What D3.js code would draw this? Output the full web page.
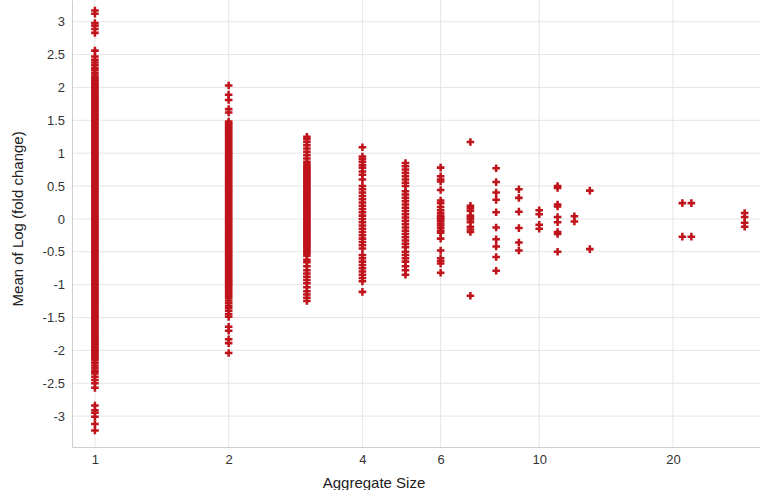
<!DOCTYPE html>
<html>
<head>
<meta charset="utf-8">
<script src="https://cdn.jsdelivr.net/npm/d3@7"></script>
<style>
  body { margin: 0; background: #fff; }
  text { font-family: "Liberation Sans", Arial, sans-serif; }
</style>
</head>
<body>
<div id="chart"></div>
<script>
// data: one array of values per aggregate size
const xTicks = [1, 2, 4, 6, 10, 20];
const yTicks = [-3, -2.5, -2, -1.5, -1, -0.5, 0, 0.5, 1, 1.5, 2, 2.5, 3];

const size1 = [3.17, 3.12, 2.98, 2.94, 2.89, 2.83, 2.56, 2.47, 2.42, 2.38, 2.34, 2.3, 2.26, 2.22, 2.18,
  2.15, 2.125, 2.1, 2.075, 2.05, 2.025, 2.0, 1.975, 1.95, 1.925, 1.9, 1.875, 1.85, 1.825, 1.8, 1.775, 1.75,
  1.725, 1.7, 1.675, 1.65, 1.625, 1.6, 1.575, 1.55, 1.525, 1.5, 1.475, 1.45, 1.425, 1.4, 1.375, 1.35, 1.325,
  1.3, 1.275, 1.25, 1.225, 1.2, 1.175, 1.15, 1.125, 1.1, 1.075, 1.05, 1.025, 1.0, 0.975, 0.95, 0.925, 0.9,
  0.875, 0.85, 0.825, 0.8, 0.775, 0.75, 0.725, 0.7, 0.675, 0.65, 0.625, 0.6, 0.575, 0.55, 0.525, 0.5, 0.475,
  0.45, 0.425, 0.4, 0.375, 0.35, 0.325, 0.3, 0.275, 0.25, 0.225, 0.2, 0.175, 0.15, 0.125, 0.1, 0.075, 0.05,
  0.025, 0, -0.025, -0.05, -0.075, -0.1, -0.125, -0.15, -0.175, -0.2, -0.225, -0.25, -0.275, -0.3, -0.325,
  -0.35, -0.375, -0.4, -0.425, -0.45, -0.475, -0.5, -0.525, -0.55, -0.575, -0.6, -0.625, -0.65, -0.675, -0.7,
  -0.725, -0.75, -0.775, -0.8, -0.825, -0.85, -0.875, -0.9, -0.925, -0.95, -0.975, -1.0, -1.025, -1.05,
  -1.075, -1.1, -1.125, -1.15, -1.175, -1.2, -1.225, -1.25, -1.275, -1.3, -1.325, -1.35, -1.375, -1.4, -1.425,
  -1.45, -1.475, -1.5, -1.525, -1.55, -1.575, -1.6, -1.625, -1.65, -1.675, -1.7, -1.725, -1.75, -1.775, -1.8,
  -1.825, -1.85, -1.875, -1.9, -1.925, -1.95, -1.975, -2.0, -2.025, -2.05, -2.075, -2.1, -2.125, -2.15,
  -2.19, -2.23, -2.27, -2.31, -2.35, -2.4, -2.45, -2.5, -2.57, -2.84, -2.91, -2.95, -3.01, -3.12, -3.22];
const size2 = [2.03, 1.89, 1.81, 1.67, 1.62, 1.48, 1.455, 1.43, 1.405, 1.38, 1.355, 1.33, 1.305, 1.28, 1.255,
  1.23, 1.205, 1.18, 1.155, 1.13, 1.105, 1.08, 1.055, 1.03, 1.005, 0.98, 0.955, 0.93, 0.905, 0.88, 0.855, 0.83,
  0.805, 0.78, 0.755, 0.73, 0.705, 0.68, 0.655, 0.63, 0.605, 0.58, 0.555, 0.53, 0.505, 0.48, 0.455, 0.43,
  0.405, 0.38, 0.355, 0.33, 0.305, 0.28, 0.255, 0.23, 0.205, 0.18, 0.155, 0.13, 0.105, 0.08, 0.055, 0.03,
  0.005, -0.02, -0.045, -0.07, -0.095, -0.12, -0.145, -0.17, -0.195, -0.22, -0.245, -0.27, -0.295, -0.32,
  -0.345, -0.37, -0.395, -0.42, -0.445, -0.47, -0.495, -0.52, -0.545, -0.57, -0.595, -0.62, -0.645, -0.67,
  -0.695, -0.72, -0.745, -0.77, -0.795, -0.82, -0.845, -0.87, -0.895, -0.92, -0.945, -0.97, -0.995, -1.02,
  -1.05, -1.08, -1.11, -1.14, -1.17, -1.2, -1.24, -1.28, -1.32, -1.36, -1.4, -1.45, -1.49, -1.64, -1.7, -1.83,
  -1.89, -2.04];
const size3 = [1.25, 1.21, 1.17, 1.12, 1.07, 1.02, 0.97, 0.92, 0.87, 0.83, 0.8, 0.775, 0.75, 0.725, 0.7, 0.675,
  0.65, 0.625, 0.6, 0.575, 0.55, 0.525, 0.5, 0.475, 0.45, 0.425, 0.4, 0.375, 0.35, 0.325, 0.3, 0.275, 0.25,
  0.225, 0.2, 0.175, 0.15, 0.125, 0.1, 0.075, 0.05, 0.025, 0, -0.025, -0.05, -0.075, -0.1, -0.125, -0.15, -0.175,
  -0.2, -0.225, -0.25, -0.275, -0.3, -0.325, -0.35, -0.375, -0.4, -0.425, -0.45, -0.475, -0.5, -0.53, -0.56,
  -0.62, -0.66, -0.72, -0.78, -0.83, -0.88, -0.93, -0.98, -1.04, -1.1, -1.15, -1.2, -1.25];
const size4 = [1.09, 0.95, 0.91, 0.87, 0.82, 0.78, 0.72, 0.67, 0.6, 0.5, 0.45, 0.4, 0.35, 0.3, 0.25, 0.2, 0.15,
  0.1, 0.05, 0, -0.05, -0.1, -0.15, -0.2, -0.25, -0.3, -0.35, -0.4, -0.45, -0.55, -0.6, -0.65, -0.7, -0.75,
  -0.8, -0.85, -0.9, -0.95, -1.11];
const size5 = [0.85, 0.8, 0.75, 0.7, 0.65, 0.6, 0.55, 0.5, 0.42, 0.37, 0.32, 0.27, 0.22, 0.17, 0.12, 0.07,
  0.02, -0.03, -0.08, -0.13, -0.18, -0.23, -0.28, -0.33, -0.38, -0.43, -0.5, -0.55, -0.6, -0.65, -0.72, -0.78,
  -0.85];
const size6 = [0.78, 0.65, 0.6, 0.57, 0.44, 0.28, 0.24, 0.18, 0.13, 0.09, 0.05, 0.02, 0, -0.03, -0.07, -0.1,
  -0.14, -0.18, -0.21, -0.3, -0.48, -0.6, -0.64, -0.68, -0.82];
const size7 = [1.17, 0.2, 0.16, 0.12, 0.05, 0.02, -0.01, -0.05, -0.12, -0.16, -0.2, -1.17];
const size8 = [0.77, 0.56, 0.4, 0.29, 0.1, -0.13, -0.31, -0.42, -0.58, -0.79];
const size9 = [0.45, 0.32, 0.11, -0.14, -0.36, -0.48];
const size10 = [0.13, 0.07, -0.09, -0.15];
const size11 = [0.5, 0.47, 0.22, 0.19, 0.03, -0.05, -0.2, -0.23, -0.5];
const size12 = [0.04, -0.04];
const size13 = [0.43, -0.46];
const size21 = [0.24, -0.27];
const size22 = [0.24, -0.27];
const size29 = [0.09, 0.03, -0.06, -0.12];

const groups = [
  [1, size1], [2, size2], [3, size3], [4, size4], [5, size5], [6, size6], [7, size7], [8, size8],
  [9, size9], [10, size10], [11, size11], [12, size12], [13, size13], [21, size21], [22, size22], [29, size29]
];
const points = groups.flatMap(([s, vals]) => vals.map(v => ({size: s, value: v})));

const width = 760, height = 490;
const plot = {left: 72, right: 760, top: 0, bottom: 447};

const svg = d3.select("#chart")
    .append("svg")
    .attr("width", width)
    .attr("height", height);

const x = d3.scaleLog()
    .domain([0.888, 31.4])
    .range([plot.left, plot.right]);

const y = d3.scaleLinear()
    .domain([-3.47, 3.33])
    .range([plot.bottom, plot.top]);

// grid lines
svg.append("g")
    .selectAll("line")
    .data(yTicks)
    .join("line")
    .attr("x1", plot.left)
    .attr("x2", plot.right)
    .attr("y1", d => y(d))
    .attr("y2", d => y(d))
    .attr("stroke", "#e5e5e5");

svg.append("g")
    .selectAll("line")
    .data(xTicks)
    .join("line")
    .attr("x1", d => x(d))
    .attr("x2", d => x(d))
    .attr("y1", plot.top)
    .attr("y2", plot.bottom)
    .attr("stroke", "#e5e5e5");

// axes
const yAxis = svg.append("g")
    .attr("transform", `translate(${plot.left},0)`)
    .call(d3.axisLeft(y).tickValues(yTicks).tickSize(0).tickPadding(7).tickFormat(d => String(d)));
yAxis.select(".domain").attr("stroke", "#cfcfcf");
yAxis.selectAll("text").attr("font-size", 13).attr("fill", "#333");

const xAxis = svg.append("g")
    .attr("transform", `translate(0,${plot.bottom})`)
    .call(d3.axisBottom(x).tickValues(xTicks).tickSize(0).tickPadding(8).tickFormat(d => String(d)));
xAxis.select(".domain").attr("stroke", "#cfcfcf");
xAxis.selectAll("text").attr("font-size", 13).attr("fill", "#333");

// points
const cross = d3.symbol().type(d3.symbolCross).size(32);
svg.append("g")
    .selectAll("path")
    .data(points)
    .join("path")
    .attr("d", cross)
    .attr("transform", d => `translate(${x(d.size)},${y(d.value)})`)
    .attr("fill", "#bf141c");

// axis titles
svg.append("text")
    .attr("transform", `translate(23,${y(0)}) rotate(-90)`)
    .attr("text-anchor", "middle")
    .attr("font-size", 15)
    .attr("fill", "#222")
    .text("Mean of Log (fold change)");

svg.append("text")
    .attr("x", 374)
    .attr("y", 488)
    .attr("text-anchor", "middle")
    .attr("font-size", 15)
    .attr("fill", "#222")
    .text("Aggregate Size");
</script>
</body>
</html>
